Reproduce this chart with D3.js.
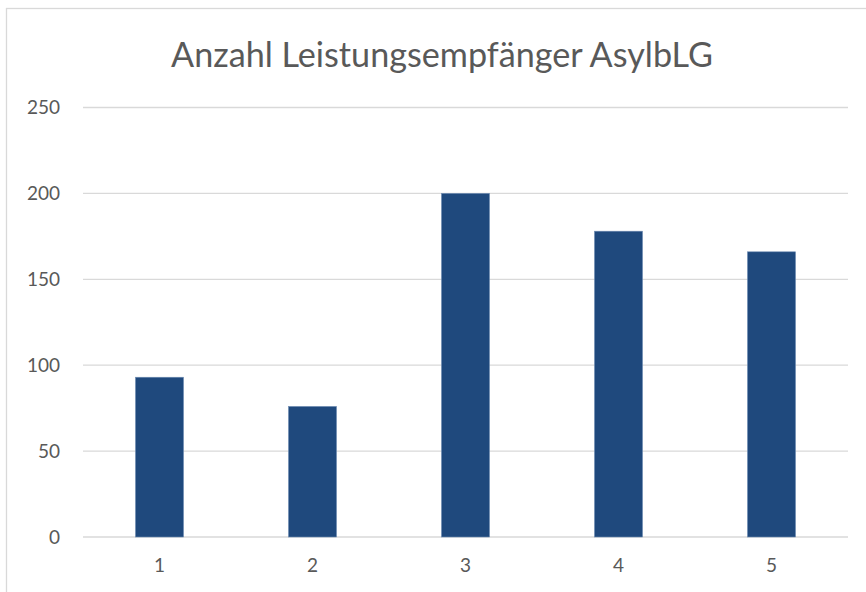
<!DOCTYPE html>
<html><head><meta charset="utf-8">
<script src="https://cdn.jsdelivr.net/npm/d3@7"></script>
<style>body{margin:0;background:#fff}svg{display:block}</style>
</head><body><svg id="c" width="866" height="592"></svg>
<script>
const categories = ["1","2","3","4","5"];
const values = [93, 76, 200, 178, 166];
const yTicks = [0, 50, 100, 150, 200, 250];
const title = "Anzahl Leistungsempfänger AsylbLG";

const svg = d3.select("#c");
const W = 866, H = 592;
const plot = {left: 83, right: 848, top: 107.5, bottom: 537};
const font = "Lato, 'Open Sans', sans-serif";

svg.append("rect").attr("width", W).attr("height", H).attr("fill", "#fff");
svg.append("rect").attr("x", 6.5).attr("y", 8.5).attr("width", 900).attr("height", 700)
  .attr("fill", "none").attr("stroke", "#d9d9d9").attr("stroke-width", 1.3);

const x = d3.scaleBand().domain(categories).range([plot.left, plot.right]).paddingInner(0.686).paddingOuter(0.343);
const y = d3.scaleLinear().domain([0, 250]).range([plot.bottom, plot.top]);

// gridlines
svg.append("g").selectAll("line").data(yTicks).join("line")
  .attr("x1", plot.left).attr("x2", plot.right)
  .attr("y1", d => y(d)).attr("y2", d => y(d))
  .attr("stroke", "#d9d9d9").attr("stroke-width", 1.3);

// y labels
const ya = svg.append("g").attr("transform", `translate(${plot.left},0)`)
  .call(d3.axisLeft(y).tickValues(yTicks).tickSize(0).tickPadding(23));
ya.select(".domain").remove();
ya.selectAll("text").attr("font-family", font).attr("font-size", 19).attr("fill", "#595959");

// bars
svg.append("g").selectAll("rect").data(values).join("rect")
  .attr("x", (d, i) => x(categories[i]))
  .attr("width", x.bandwidth())
  .attr("y", d => y(d))
  .attr("height", d => y(0) - y(d))
  .attr("fill", "#1f497d").attr("stroke", "#6f8db3").attr("stroke-width", 0.6);

// x labels
const xa = svg.append("g").attr("transform", `translate(0,${plot.bottom})`)
  .call(d3.axisBottom(x).tickSize(0).tickPadding(22));
xa.select(".domain").remove();
xa.selectAll("text").attr("font-family", font).attr("font-size", 19).attr("fill", "#595959");

// title
const t = svg.append("text").attr("x", 442).attr("y", 67).attr("text-anchor", "middle")
  .attr("font-family", font).attr("font-size", 30).attr("fill", "#595959").text(title);
const w = t.node().getComputedTextLength();
t.attr("font-size", 30 * 542 / w);
</script></body></html>
